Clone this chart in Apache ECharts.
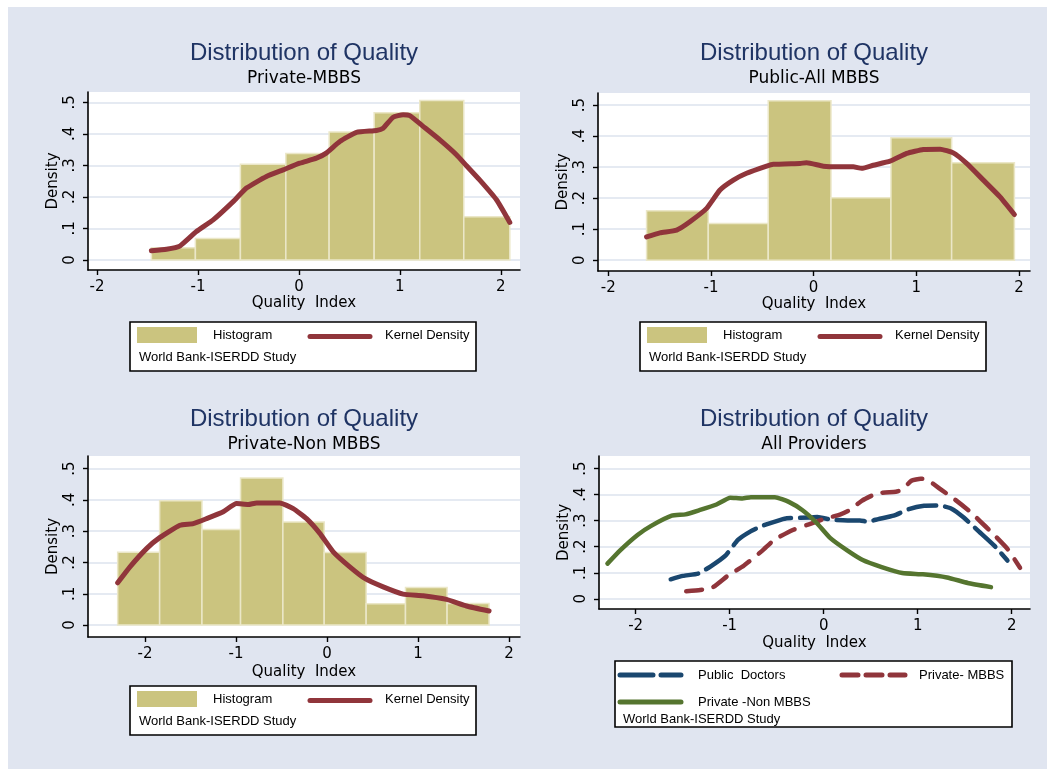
<!DOCTYPE html>
<html>
<head>
<meta charset="utf-8">
<script src="https://cdn.jsdelivr.net/npm/echarts@6/dist/echarts.min.js"></script>
<style>
html,body{margin:0;padding:0;background:#fff;}
#chart{width:1047px;height:769px;}
</style>
</head>
<body>
<div id="chart"></div>
<script>
// ---------- data ----------
const xTicks = [-2, -1, 0, 1, 2];
const yTicks = [0, 0.1, 0.2, 0.3, 0.4, 0.5];
const yTickLabels = ['0', '.1', '.2', '.3', '.4', '.5'];

const panelTitles = ['Distribution of Quality', 'Distribution of Quality', 'Distribution of Quality', 'Distribution of Quality'];
const panelSubtitles = ['Private-MBBS', 'Public-All MBBS', 'Private-Non MBBS', 'All Providers'];

// Private-MBBS histogram
const privMbbsEdges = [-1.462, -1.026, -0.580, -0.130, 0.299, 0.745, 1.197, 1.633, 2.089];
const privMbbsHeights = [0.039, 0.068, 0.304, 0.338, 0.406, 0.467, 0.506, 0.137];
// Public-All MBBS histogram
const publicEdges = [-1.627, -1.026, -0.442, 0.169, 0.753, 1.344, 1.955];
const publicHeights = [0.159, 0.118, 0.514, 0.201, 0.395, 0.314];
// Private-Non MBBS histogram
const nonMbbsEdges = [-2.300, -1.839, -1.374, -0.950, -0.485, -0.031, 0.430, 0.862, 1.319, 1.780];
const nonMbbsHeights = [0.233, 0.397, 0.305, 0.470, 0.329, 0.232, 0.068, 0.120, 0.069];

// Kernel density curves
const privMbbsKernel = [[-1.462,0.029],[-1.313,0.034],[-1.18,0.044],[-1.016,0.090],[-0.85,0.127],[-0.652,0.185],[-0.52,0.228],[-0.322,0.265],[-0.157,0.286],[0.008,0.307],[0.173,0.323],[0.27,0.339],[0.405,0.376],[0.57,0.405],[0.768,0.411],[0.834,0.418],[0.933,0.453],[1.032,0.461],[1.098,0.458],[1.23,0.424],[1.396,0.381],[1.56,0.334],[1.66,0.299],[1.79,0.254],[1.957,0.191],[2.089,0.119]];
const publicKernel = [[-1.627,0.075],[-1.497,0.088],[-1.334,0.097],[-1.205,0.124],[-1.042,0.167],[-0.912,0.226],[-0.782,0.258],[-0.653,0.280],[-0.458,0.303],[-0.393,0.309],[-0.133,0.312],[-0.068,0.314],[0.094,0.303],[0.256,0.301],[0.386,0.301],[0.468,0.296],[0.581,0.306],[0.744,0.319],[0.906,0.344],[1.068,0.357],[1.231,0.358],[1.36,0.346],[1.49,0.312],[1.653,0.258],[1.815,0.204],[1.955,0.147]];
const nonMbbsKernel = [[-2.30,0.135],[-2.165,0.186],[-1.98,0.245],[-1.835,0.280],[-1.616,0.319],[-1.47,0.324],[-1.323,0.340],[-1.14,0.362],[-0.994,0.388],[-0.866,0.385],[-0.774,0.390],[-0.518,0.390],[-0.371,0.372],[-0.225,0.340],[-0.079,0.293],[0.068,0.234],[0.25,0.186],[0.415,0.149],[0.617,0.122],[0.836,0.099],[1.056,0.094],[1.312,0.082],[1.532,0.061],[1.78,0.045]];

// ---------- styles ----------
const BG = '#e0e5f0';
const KHAKI = '#cbc47f';
const KHAKI_EDGE = '#ebe7c8';
const MAROON = '#90353b';
const NAVY = '#1a476f';
const GREEN = '#55752f';
const TITLE_C = '#1f3464';
const F = '"Liberation Sans", Arial, sans-serif';
const F2 = '"DejaVu Sans", sans-serif';

const grids = [
  {left: 88, top: 92, width: 432, height: 178},
  {left: 598, top: 93, width: 432, height: 178},
  {left: 88, top: 456, width: 432, height: 181},
  {left: 599, top: 456, width: 431, height: 153}
];
const xRanges = [[-2.09, 2.19], [-2.10, 2.107], [-2.626, 2.12], [-2.39, 2.195]];
const yRanges = [[-0.032, 0.533], [-0.035, 0.539], [-0.038, 0.540], [-0.039, 0.548]];
const xNameGaps = [24, 24, 28, 27];

function bins(edges, heights) {
  return heights.map((h, i) => [edges[i], edges[i + 1], h]);
}

const xAxes = grids.map((g, i) => ({
  type: 'value', gridIndex: i, min: xRanges[i][0], max: xRanges[i][1],
  axisLine: {show: true, onZero: false, lineStyle: {color: '#000', width: 1.6}},
  axisTick: {show: true, length: 5, customValues: xTicks, lineStyle: {color: '#000', width: 1.4}},
  axisLabel: {customValues: xTicks, margin: 10, fontFamily: F2, fontSize: 15, color: '#000',
    formatter: v => String(v)},
  splitLine: {show: false},
  name: 'Quality  Index', nameLocation: 'middle', nameGap: xNameGaps[i],
  nameTextStyle: {fontFamily: F2, fontSize: 15, color: '#000'}
}));

const yAxes = grids.map((g, i) => ({
  type: 'value', gridIndex: i, min: yRanges[i][0], max: yRanges[i][1],
  axisLine: {show: true, onZero: false, lineStyle: {color: '#000', width: 1.6}},
  axisTick: {show: true, length: 5, customValues: yTicks, lineStyle: {color: '#000', width: 1.4}},
  axisLabel: {customValues: yTicks, rotate: 90, margin: 10, fontFamily: F2, fontSize: 15, color: '#000',
    formatter: v => yTickLabels[yTicks.findIndex(t => Math.abs(t - v) < 1e-9)] ?? ''},
  splitLine: {show: true, lineStyle: {color: '#dde3ee', width: 1.6}},
  name: 'Density', nameLocation: 'middle', nameGap: 27, nameRotate: 90,
  nameTextStyle: {fontFamily: F2, fontSize: 15, color: '#000'}
}));

function histSeries(idx, edges, heights) {
  return {
    type: 'custom', xAxisIndex: idx, yAxisIndex: idx,
    data: bins(edges, heights),
    encode: {x: [0, 1], y: 2},
    clip: true,
    renderItem: (params, api) => {
      const p0 = api.coord([api.value(0), api.value(2)]);
      const p1 = api.coord([api.value(1), 0]);
      return {
        type: 'rect',
        shape: {x: p0[0], y: p0[1], width: p1[0] - p0[0], height: p1[1] - p0[1]},
        style: {fill: KHAKI, stroke: KHAKI_EDGE, lineWidth: 1.5}
      };
    },
    z: 2
  };
}
function lineSeries(idx, data, color, type, width) {
  return {
    type: 'line', xAxisIndex: idx, yAxisIndex: idx, data: data,
    showSymbol: false, symbol: 'none', smooth: 0.15,
    lineStyle: {color: color, width: width, type: type, cap: 'round', join: 'round'},
    z: 3, animation: false
  };
}

const series = [
  histSeries(0, privMbbsEdges, privMbbsHeights),
  lineSeries(0, privMbbsKernel, MAROON, 'solid', 5),
  histSeries(1, publicEdges, publicHeights),
  lineSeries(1, publicKernel, MAROON, 'solid', 5),
  histSeries(2, nonMbbsEdges, nonMbbsHeights),
  lineSeries(2, nonMbbsKernel, MAROON, 'solid', 5),
  lineSeries(3, publicKernel, NAVY, [28, 9], 4.5),
  lineSeries(3, privMbbsKernel, MAROON, [16, 12], 4.5),
  lineSeries(3, nonMbbsKernel, GREEN, 'solid', 4.5)
];

const titleCenters = [[304, 39], [814, 39], [304, 405], [814, 405]];
const titles = titleCenters.map((c, i) => ({
  text: panelTitles[i], subtext: panelSubtitles[i],
  left: c[0], top: c[1], textAlign: 'center', padding: 0, itemGap: 1,
  textStyle: {fontFamily: F, fontSize: 24, fontWeight: 'normal', color: TITLE_C, lineHeight: 28},
  subtextStyle: {fontFamily: F2, fontSize: 17, color: '#000', lineHeight: 21}
}));

// ---------- legends (graphic) ----------
const LT = {fontFamily: F, fontSize: 13, fill: '#000'};
function txt(x, y, s) {
  return {type: 'text', x: x, y: y, style: Object.assign({text: s, verticalAlign: 'middle', align: 'left'}, LT), z: 10};
}
function histLegend(L, T) {
  return [
    {type: 'rect', shape: {x: L, y: T, width: 346, height: 49}, style: {fill: '#fff', stroke: '#000', lineWidth: 1.6}, z: 9},
    {type: 'rect', shape: {x: L + 7, y: T + 5, width: 60, height: 16}, style: {fill: KHAKI}, z: 10},
    txt(L + 83, T + 13, 'Histogram'),
    {type: 'line', shape: {x1: L + 180, y1: T + 14.5, x2: L + 240, y2: T + 14.5}, style: {stroke: MAROON, lineWidth: 5, lineCap: 'round'}, z: 10},
    txt(L + 255, T + 13, 'Kernel Density'),
    txt(L + 9, T + 35, 'World Bank-ISERDD Study')
  ];
}
function allLegend(L, T) {
  return [
    {type: 'rect', shape: {x: L, y: T, width: 397, height: 66}, style: {fill: '#fff', stroke: '#000', lineWidth: 1.6}, z: 9},
    {type: 'line', shape: {x1: L + 5, y1: T + 14, x2: L + 66, y2: T + 14}, style: {stroke: NAVY, lineWidth: 5, lineCap: 'round', lineDash: [33, 8]}, z: 10},
    txt(L + 83, T + 14, 'Public  Doctors'),
    {type: 'line', shape: {x1: L + 227, y1: T + 14, x2: L + 290, y2: T + 14}, style: {stroke: MAROON, lineWidth: 5, lineCap: 'round', lineDash: [16, 8]}, z: 10},
    txt(L + 304, T + 14, 'Private- MBBS'),
    {type: 'line', shape: {x1: L + 5, y1: T + 41, x2: L + 66, y2: T + 41}, style: {stroke: GREEN, lineWidth: 5, lineCap: 'round'}, z: 10},
    txt(L + 83, T + 41, 'Private -Non MBBS'),
    txt(L + 8, T + 58.5, 'World Bank-ISERDD Study')
  ];
}

const graphics = [
  {type: 'rect', shape: {x: 0, y: 0, width: 1047, height: 7}, style: {fill: '#fff'}, z: 1},
  {type: 'rect', shape: {x: 0, y: 0, width: 8, height: 769}, style: {fill: '#fff'}, z: 1}
].concat(histLegend(130, 322), histLegend(640, 322), histLegend(130, 686), allLegend(615, 661));

const chart = echarts.init(document.getElementById('chart'), null, {renderer: 'canvas'});
chart.setOption({
  backgroundColor: BG,
  animation: false,
  title: titles,
  grid: grids.map(g => Object.assign({show: true, backgroundColor: '#fff', borderWidth: 0, containLabel: false}, g)),
  xAxis: xAxes,
  yAxis: yAxes,
  series: series,
  graphic: graphics
});
</script>
</body>
</html>
